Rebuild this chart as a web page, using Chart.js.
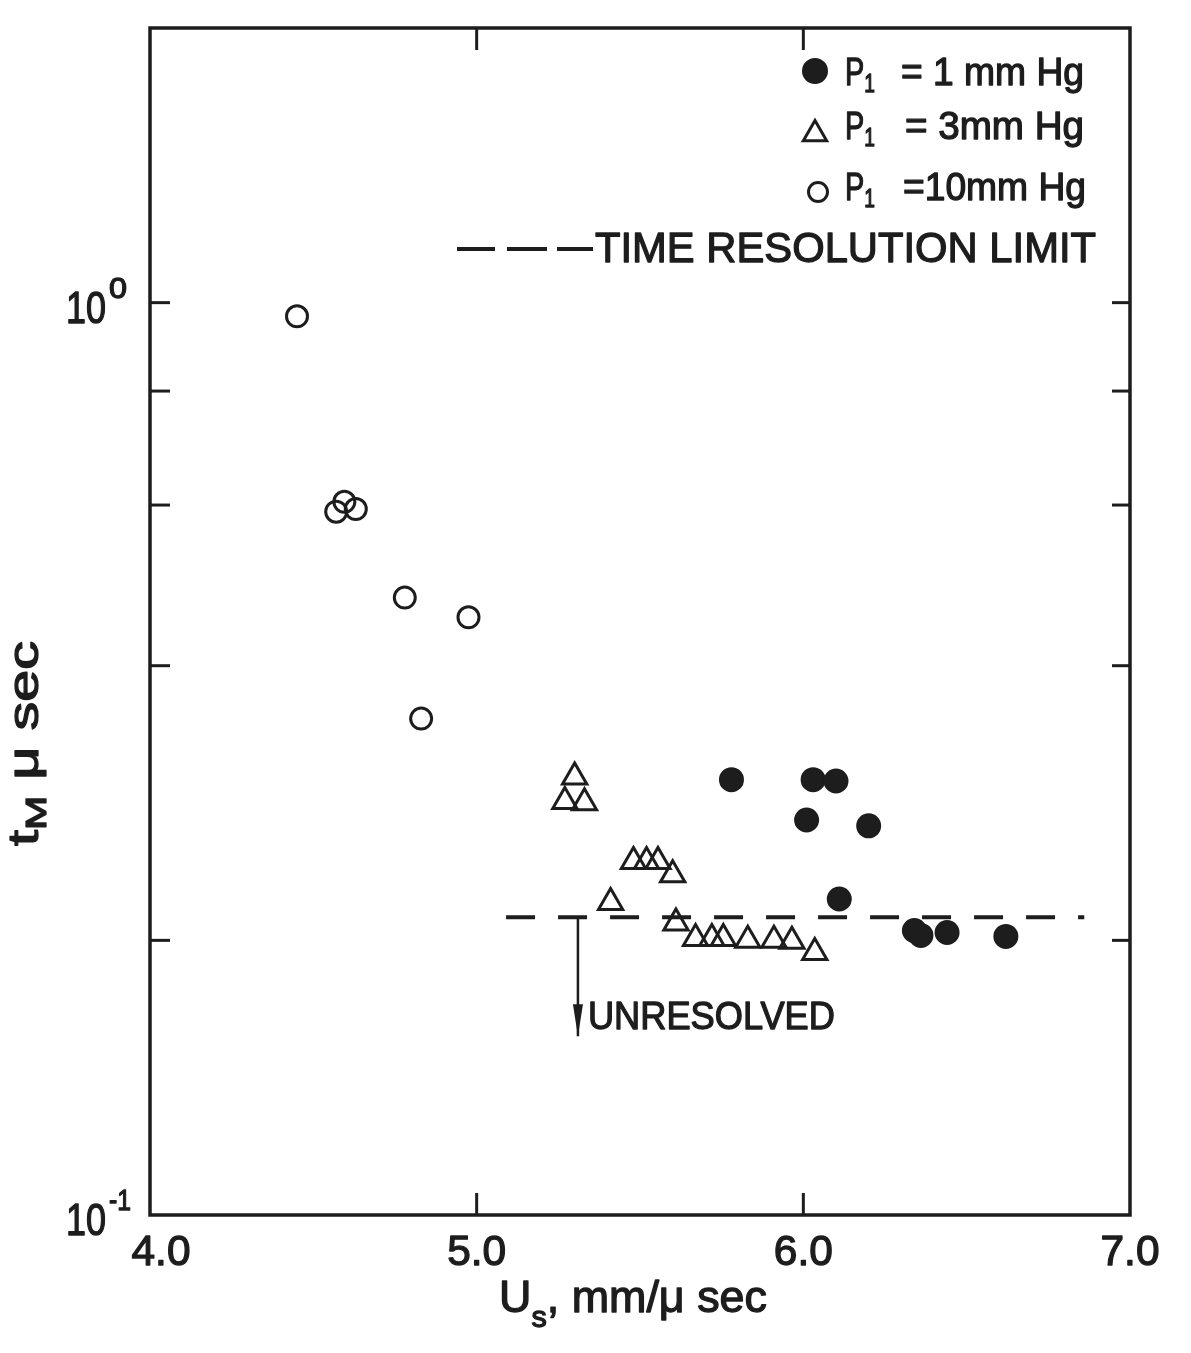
<!DOCTYPE html>
<html lang="en">
<head>
<meta charset="utf-8">
<title>t_M vs U_s</title>
<script src="https://cdn.jsdelivr.net/npm/chart.js@4.4.1/dist/chart.umd.min.js"></script>
<style>
  html, body { margin: 0; padding: 0; background: #fff; }
  canvas { display: block; }
</style>
</head>
<body>
<canvas id="tm" width="1191" height="1353"></canvas>
<script>
// P1 = 1 mm Hg (filled circles): shock velocity U_s (mm/usec), t_M (usec)
const p1U = [5.78, 6.03, 6.10, 6.01, 6.20, 6.11, 6.34, 6.36, 6.44, 6.62];
const p1T = [0.300, 0.300, 0.299, 0.271, 0.267, 0.222, 0.205, 0.2025, 0.204, 0.202];
// P1 = 3 mm Hg (open triangles)
const p3U = [5.30, 5.27, 5.33, 5.41, 5.48, 5.52, 5.555, 5.60, 5.61, 5.67, 5.72, 5.755, 5.83, 5.91, 5.965, 6.035];
const p3T = [0.302, 0.284, 0.283, 0.220, 0.244, 0.244, 0.244, 0.236, 0.209, 0.201, 0.201, 0.201, 0.200, 0.200, 0.1995, 0.194];
// P1 = 10 mm Hg (open circles)
const p10U = [4.45, 4.57, 4.595, 4.63, 4.78, 4.975, 4.83];
const p10T = [0.966, 0.590, 0.605, 0.594, 0.475, 0.452, 0.350];
// time resolution limit and the "unresolved" arrow
const limitU = [5.09, 6.86];
const limitT = [0.212, 0.212];
const arrowU = [5.31, 5.31];
const arrowT = [0.212, 0.157];
// axes
const uTicks = [4, 5, 6, 7];
const uInner = [5, 6];
const tMarks = [0.2, 0.4, 0.6, 0.8, 1.0];
const tDecades = [1, 0.1];
const legendText = ['= 1 mm Hg', '= 3mm Hg', '=10mm Hg'];

const INK = '#1d1d1d';
const FONT = '"Liberation Sans", Arial, sans-serif';

const pts = (xs, ys) => xs.map((x, i) => ({ x, y: ys[i] }));

// a run of text pieces squeezed to a given width (the lettering is narrow and heavy)
function runs(ctx, parts, x, y, width, align) {
  let natural = 0;
  parts.forEach(p => { ctx.font = `${p.size}px ${FONT}`; p.w = ctx.measureText(p.t).width; natural += p.w; });
  const k = width ? width / natural : 1;
  const w = natural * k;
  const x0 = align === 'center' ? x - w / 2 : align === 'right' ? x - w : x;
  ctx.save();
  ctx.translate(x0, y);
  ctx.scale(k, 1);
  ctx.textAlign = 'left';
  ctx.textBaseline = 'alphabetic';
  ctx.lineWidth = 1.3;
  ctx.lineJoin = 'round';
  let cx = 0;
  parts.forEach(p => {
    ctx.font = `${p.size}px ${FONT}`;
    ctx.fillText(p.t, cx, p.dy || 0);
    ctx.strokeText(p.t, cx, p.dy || 0);
    cx += p.w;
  });
  ctx.restore();
}

function seg(ctx, x1, y1, x2, y2) { ctx.beginPath(); ctx.moveTo(x1, y1); ctx.lineTo(x2, y2); ctx.stroke(); }

function marker(ctx, style, x, y, r, filled) {
  ctx.beginPath();
  if (style === 'triangle') {
    for (let i = 0; i < 3; i++) {
      const ang = i * 2 * Math.PI / 3;
      ctx[i ? 'lineTo' : 'moveTo'](x + Math.sin(ang) * r, y - Math.cos(ang) * r);
    }
    ctx.closePath();
  } else {
    ctx.arc(x, y, r, 0, Math.PI * 2);
  }
  if (filled) ctx.fill();
  ctx.stroke();
}

const decor = {
  id: 'decor',
  beforeDraw(chart) {
    const { ctx, width, height } = chart;
    ctx.save(); ctx.fillStyle = '#fff'; ctx.fillRect(0, 0, width, height); ctx.restore();
  },
  afterDatasetsDraw(chart) {
    const { ctx, chartArea: a, scales: { x, y } } = chart;
    ctx.save();
    ctx.strokeStyle = INK; ctx.fillStyle = INK;

    // frame with inward ticks
    ctx.lineWidth = 3.5;
    ctx.strokeRect(a.left, a.top, a.right - a.left, a.bottom - a.top);
    ctx.lineWidth = 3;
    uInner.forEach(v => {
      const px = x.getPixelForValue(v);
      seg(ctx, px, a.top, px, a.top + 22);
      seg(ctx, px, a.bottom, px, a.bottom - 22);
    });
    tMarks.forEach(v => {
      const py = y.getPixelForValue(v);
      seg(ctx, a.left, py, a.left + 20, py);
      seg(ctx, a.right - 18, py, a.right, py);
    });

    // tick labels
    uTicks.forEach((v, i) => {
      const px = x.getPixelForValue(v) + (i === 0 ? 11 : 0);
      runs(ctx, [{ t: v.toFixed(1), size: 42 }], px, a.bottom + 50, 59, 'center');
    });
    tDecades.forEach(v => {
      const py = y.getPixelForValue(v);
      runs(ctx, [{ t: '10', size: 44 }], a.left - 44, py + 20, 40, 'right');
      const e = Math.round(Math.log10(v));
      runs(ctx, [{ t: String(e), size: 30 }], a.left - 41, py - 5, e < 0 ? 22 : 18);
    });

    // axis titles
    runs(ctx, [{ t: 'U', size: 44 }, { t: 's', size: 30, dy: 15 }, { t: ', mm/\u03bc sec', size: 44 }],
      a.left + 349, a.bottom + 97, 268);
    ctx.save();
    ctx.translate(a.left - 112, a.bottom - 369);
    ctx.rotate(-Math.PI / 2);
    runs(ctx, [{ t: 't', size: 42 }, { t: 'M', size: 30, dy: 8 }, { t: ' \u03bc sec', size: 42 }], 0, 0, 205);
    ctx.restore();

    // legend
    const rows = [
      { style: 'circle', filled: true, r: 12, mx: a.right - 315, my: a.top + 43, base: a.top + 57, tx: a.right - 229, tw: 183 },
      { style: 'triangle', filled: false, r: 13.5, mx: a.right - 315, my: a.top + 106, base: a.top + 111, tx: a.right - 225, tw: 179 },
      { style: 'circle', filled: false, r: 9.5, mx: a.right - 312, my: a.top + 164, base: a.top + 172, tx: a.right - 227, tw: 183 },
    ];
    rows.forEach((r, i) => {
      ctx.lineWidth = r.filled ? 2 : 3;
      marker(ctx, r.style, r.mx, r.my, r.r, r.filled);
      runs(ctx, [{ t: 'P', size: 39 }, { t: '1', size: 26, dy: 7 }], a.right - 285, r.base, 30);
      runs(ctx, [{ t: legendText[i], size: 39 }], r.tx, r.base, r.tw);
    });
    ctx.lineWidth = 4;
    [[673, 635], [623, 583], [573, 537]].forEach(([s, e]) => seg(ctx, a.right - s, a.top + 221, a.right - e, a.top + 221));
    runs(ctx, [{ t: 'TIME RESOLUTION LIMIT', size: 43 }], a.right - 535, a.top + 234, 501);

    // arrowhead and label below the resolution limit
    const tip = chart.getDatasetMeta(1).data[1];
    ctx.beginPath();
    ctx.moveTo(tip.x, tip.y);
    ctx.lineTo(tip.x - 5, tip.y - 32);
    ctx.lineTo(tip.x + 5, tip.y - 32);
    ctx.closePath();
    ctx.fill();
    runs(ctx, [{ t: 'UNRESOLVED', size: 38 }], tip.x + 10, tip.y - 7, 247);

    ctx.restore();
  }
};

new Chart(document.getElementById('tm'), {
  type: 'scatter',
  data: {
    datasets: [
      { label: 'Time resolution limit', data: pts(limitU, limitT), showLine: true, borderColor: INK,
        borderWidth: 4, borderDash: [29, 23], pointRadius: 0 },
      { label: 'Unresolved', data: pts(arrowU, arrowT), showLine: true, borderColor: INK,
        borderWidth: 2.5, pointRadius: 0 },
      { label: 'P1 = 10 mm Hg', data: pts(p10U, p10T), pointStyle: 'circle', pointRadius: 10.5,
        borderWidth: 3, borderColor: INK, backgroundColor: 'rgba(0,0,0,0)' },
      { label: 'P1 = 3 mm Hg', data: pts(p3U, p3T), pointStyle: 'triangle', pointRadius: 14,
        borderWidth: 3, borderColor: INK, backgroundColor: 'rgba(0,0,0,0)' },
      { label: 'P1 = 1 mm Hg', data: pts(p1U, p1T), pointStyle: 'circle', pointRadius: 11.5,
        borderWidth: 2, borderColor: INK, backgroundColor: INK },
    ]
  },
  options: {
    responsive: false,
    animation: false,
    devicePixelRatio: 1,
    layout: { padding: { left: 150, right: 61, top: 28, bottom: 138 } },
    plugins: { legend: { display: false }, tooltip: { enabled: false } },
    scales: {
      x: { type: 'linear', min: 4, max: 7, display: false },
      y: { type: 'logarithmic', min: 0.1, max: 2, display: false },
    },
  },
  plugins: [decor],
});
</script>
</body>
</html>
